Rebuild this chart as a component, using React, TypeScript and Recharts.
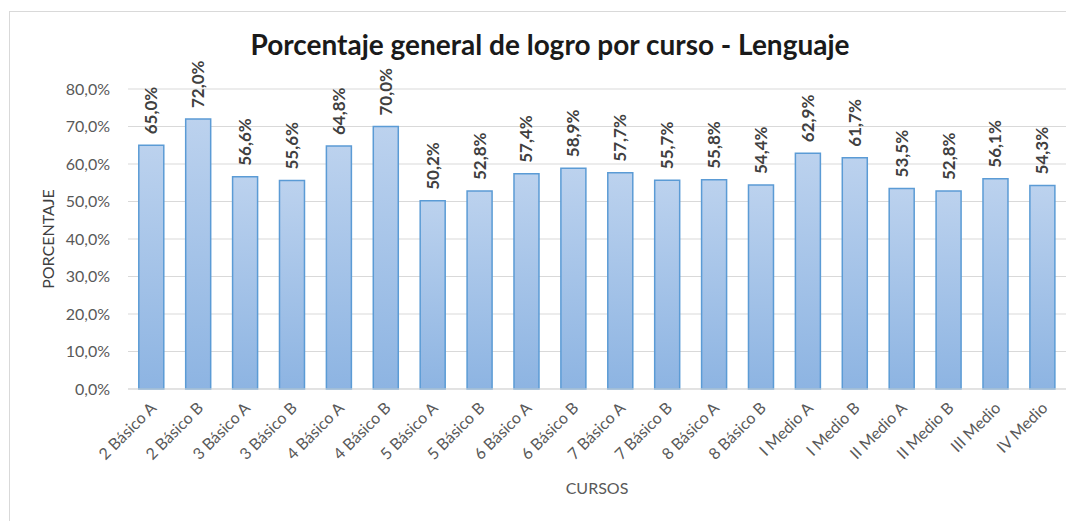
import { BarChart, Bar, XAxis, YAxis, CartesianGrid, LabelList } from 'recharts';

// ---------------------------------------------------------------------------
// Data
// ---------------------------------------------------------------------------

const CURSOS = [
  '2 Básico A', '2 Básico B', '3 Básico A', '3 Básico B', '4 Básico A', '4 Básico B',
  '5 Básico A', '5 Básico B', '6 Básico A', '6 Básico B', '7 Básico A', '7 Básico B',
  '8 Básico A', '8 Básico B', 'I Medio A', 'I Medio B', 'II Medio A', 'II Medio B',
  'III Medio', 'IV Medio',
];
const LOGRO = [65.0, 72.0, 56.6, 55.6, 64.8, 70.0, 50.2, 52.8, 57.4, 58.9, 57.7, 55.7, 55.8, 54.4, 62.9, 61.7, 53.5, 52.8, 56.1, 54.3];
const Y_TICKS = [0, 10, 20, 30, 40, 50, 60, 70, 80];

const TITLE = 'Porcentaje general de logro por curso - Lenguaje';
const FONT = 'Lato, "Open Sans", sans-serif';

const data = CURSOS.map((curso, i) => ({ curso, logro: LOGRO[i] }));

const pct = (v: number) => `${v.toFixed(1).replace('.', ',')}%`;

// ---------------------------------------------------------------------------
// Custom pieces
// ---------------------------------------------------------------------------

function CursoTick({ x, y, payload }: { x?: number; y?: number; payload?: { value: string } }) {
  if (x == null || y == null || !payload) return null;
  const tx = x + 6, ty = y + 12;
  return (
    <text x={tx} y={ty} textAnchor="end" fontSize={16} fill="#595959" fontFamily={FONT}
      transform={`rotate(-45 ${tx} ${ty})`}>
      {payload.value}
    </text>
  );
}

function ValueLabel({ x, y, width, value }: { x?: number; y?: number; width?: number; value?: number }) {
  if (x == null || y == null || width == null || value == null) return null;
  const cx = Number(x) + Number(width) / 2 + 6;
  const cy = Number(y) - 11;
  return (
    <text x={cx} y={cy} textAnchor="start" fontSize={17} fontWeight={700} fill="#404040" fontFamily={FONT}
      transform={`rotate(-90 ${cx} ${cy})`}>
      {pct(value)}
    </text>
  );
}

// ---------------------------------------------------------------------------
// App
// ---------------------------------------------------------------------------

export default function App() {
  return (
    <div style={{ position: 'relative', width: 1066, height: 513, overflow: 'hidden', fontFamily: FONT }}>
      <div style={{ position: 'absolute', left: 1, top: 3, width: 1100, height: 600, border: '1px solid #d9d9d9', boxSizing: 'border-box' }} />
      <BarChart width={1066} height={513} data={data} barCategoryGap="23%"
        margin={{ top: 81, right: 8, left: 60, bottom: 27 }} style={{ position: 'absolute', left: 0, top: 0 }}>
        <defs>
          <linearGradient id="barFill" x1="0" y1="0" x2="0" y2="1">
            <stop offset="0%" stopColor="#bcd2ee" />
            <stop offset="100%" stopColor="#8db4e2" />
          </linearGradient>
        </defs>
        <text x={542} y={47} textAnchor="middle" fontSize={28} fontWeight={700} fill="#1a1a1a" fontFamily={FONT}>{TITLE}</text>
        <CartesianGrid vertical={false} stroke="#d9d9d9" />
        <XAxis dataKey="curso" interval={0} height={105} axisLine={{ stroke: '#d9d9d9' }} tickLine={false}
          tick={<CursoTick />}
          label={{ value: 'CURSOS', position: 'insideBottom', offset: 0, fontSize: 16, fill: '#595959', fontFamily: FONT }} />
        <YAxis domain={[0, 80]} ticks={Y_TICKS} tickFormatter={pct} width={60} axisLine={false} tickLine={false}
          tick={{ fontSize: 16, fill: '#595959', fontFamily: FONT }} tickMargin={12}
          label={{ value: 'PORCENTAJE', angle: -90, position: 'insideLeft', offset: -20, fontSize: 16, fill: '#404040', fontFamily: FONT, style: { textAnchor: 'middle' } }} />
        <Bar dataKey="logro" fill="url(#barFill)" stroke="#5b9bd5" strokeWidth={1.5} isAnimationActive={false}>
          <LabelList dataKey="logro" content={<ValueLabel />} />
        </Bar>
      </BarChart>
    </div>
  );
}
